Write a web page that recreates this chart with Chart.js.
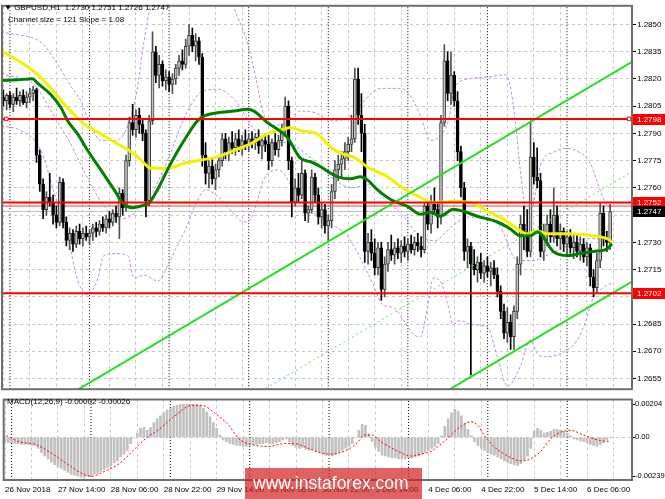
<!DOCTYPE html>
<html>
<head>
<meta charset="utf-8">
<title>GBPUSD H1</title>
<script src="https://cdn.jsdelivr.net/npm/chart.js@4.4.1/dist/chart.umd.min.js"></script>
<style>
body{margin:0;background:#fff;}
#wrap{position:relative;width:665px;height:499px;overflow:hidden;font-family:'Liberation Sans',Arial,sans-serif;}
canvas{position:absolute;left:0;}
#main{top:0;}
#macd{top:395px;}
.lbl{position:absolute;font-size:8px;line-height:10px;color:#000;white-space:pre;}
#wm{position:absolute;left:245px;top:468px;width:177px;height:31px;background:rgba(210,30,30,0.7);color:#fff;font-size:17.5px;line-height:31px;padding-left:8px;box-sizing:border-box;}
</style>
</head>
<body>
<div id="wrap">
<canvas id="main" width="665" height="395"></canvas>
<canvas id="macd" width="665" height="104"></canvas>
<div class="lbl" style="left:4px;top:3px">▼ GBPUSD,H1  1.2730 1.2751 1.2726 1.2747</div>
<div class="lbl" style="left:8px;top:15px">Channel size = 121 Slope = 1.08</div>
<div class="lbl" style="left:7px;top:397px">MACD(12,26,9) -0.00002 -0.00026</div>
<div id="wm">www.instaforex.com</div>
</div>
<script>
// bar index 0 = 26 Nov 22:00, one bar per hour
const gridBars = [0,8,16,24,32,40,48,56,64,72,80,88,96,104,112,120,128,136,144,152,160,168,176,184];
const daySeps = [2,26,50,74,98,122,146,170];
const labelBars = [0,16,32,48,64,80,96,112,128,144,160,176];
const labelTexts = ['26 Nov 2018','27 Nov 14:00','28 Nov 06:00','28 Nov 22:00','29 Nov 14:00','30 Nov 06:00',
  '30 Nov 22:00','3 Dec 14:00','4 Dec 06:00','4 Dec 22:00','5 Dec 14:00','6 Dec 06:00'];
const priceTicks = [1.2655,1.2670,1.2685,1.2700,1.2715,1.2730,1.2745,1.2760,1.2775,1.2790,1.2805,1.2820,1.2835,1.2850];
const macdTicks = [-0.00239,0,0.00204];

const opens = [
  1.2810,1.2808,1.2811,1.2806,1.2810,1.2808,1.2811,1.2807,1.2810,1.2812,
  1.2814,1.2778,1.2762,1.2748,1.2755,1.2752,1.2745,1.2741,1.2763,1.2741,
  1.2731,1.2735,1.2729,1.2736,1.2732,1.2735,1.2733,1.2735,1.2738,1.2736,
  1.2740,1.2738,1.2743,1.2741,1.2746,1.2744,1.2757,1.2749,1.2775,1.2796,
  1.2792,1.2800,1.2795,1.2790,1.2753,1.2797,1.2835,1.2822,1.2828,1.2819,
  1.2821,1.2817,1.2820,1.2826,1.2830,1.2828,1.2838,1.2844,1.2838,1.2841,
  1.2832,1.2778,1.2768,1.2772,1.2765,1.2770,1.2775,1.2787,1.2780,1.2785,
  1.2782,1.2787,1.2783,1.2786,1.2784,1.2787,1.2785,1.2788,1.2783,1.2786,
  1.2784,1.2775,1.2785,1.2781,1.2786,1.2793,1.2805,1.2775,1.2752,1.2760,
  1.2756,1.2768,1.2746,1.2748,1.2766,1.2756,1.2744,1.2748,1.2739,1.2742,
  1.2758,1.2770,1.2773,1.2776,1.2780,1.2784,1.2787,1.2820,1.2800,1.2790,
  1.2725,1.2730,1.2724,1.2716,1.2727,1.2704,1.2718,1.2726,1.2723,1.2727,
  1.2724,1.2728,1.2725,1.2729,1.2726,1.2730,1.2728,1.2726,1.2750,1.2740,
  1.2752,1.2748,1.2744,1.2796,1.2830,1.2812,1.2822,1.2808,1.2780,1.2760,
  1.2725,1.2728,1.2718,1.2715,1.2719,1.2713,1.2717,1.2714,1.2716,1.2712,
  1.2703,1.2692,1.2680,1.2686,1.2678,1.2692,1.2718,1.2740,1.2735,1.2725,
  1.2777,1.2766,1.2764,1.2725,1.2735,1.2740,1.2733,1.2745,1.2732,1.2736,
  1.2729,1.2733,1.2727,1.2730,1.2725,1.2729,1.2722,1.2727,1.2711,1.2705,
  1.2720,1.2746,1.2732,1.2730];
const highs = [
  1.2814,1.2812,1.2813,1.2812,1.2815,1.2813,1.2814,1.2813,1.2815,1.2816,
  1.2815,1.2781,1.2765,1.2758,1.2768,1.2756,1.2750,1.2766,1.2765,1.2744,
  1.2738,1.2737,1.2739,1.2740,1.2738,1.2739,1.2737,1.2740,1.2741,1.2742,
  1.2744,1.2745,1.2747,1.2748,1.2750,1.2760,1.2759,1.2778,1.2799,1.2806,
  1.2803,1.2804,1.2798,1.2792,1.2800,1.2846,1.2838,1.2833,1.2830,1.2825,
  1.2824,1.2823,1.2828,1.2833,1.2836,1.2842,1.2850,1.2848,1.2845,1.2843,
  1.2834,1.2785,1.2775,1.2776,1.2773,1.2778,1.2790,1.2790,1.2788,1.2791,
  1.2790,1.2792,1.2789,1.2792,1.2790,1.2791,1.2790,1.2792,1.2788,1.2790,
  1.2789,1.2787,1.2790,1.2789,1.2795,1.2810,1.2808,1.2777,1.2765,1.2768,
  1.2775,1.2770,1.2750,1.2770,1.2768,1.2760,1.2752,1.2751,1.2745,1.2762,
  1.2775,1.2778,1.2780,1.2785,1.2788,1.2800,1.2826,1.2826,1.2812,1.2795,
  1.2735,1.2737,1.2732,1.2730,1.2730,1.2722,1.2730,1.2734,1.2730,1.2732,
  1.2731,1.2733,1.2732,1.2734,1.2733,1.2735,1.2733,1.2752,1.2752,1.2756,
  1.2760,1.2752,1.2800,1.2839,1.2835,1.2835,1.2824,1.2813,1.2783,1.2763,
  1.2732,1.2730,1.2726,1.2722,1.2724,1.2720,1.2722,1.2719,1.2720,1.2716,
  1.2706,1.2696,1.2694,1.2690,1.2695,1.2722,1.2745,1.2750,1.2748,1.2797,
  1.2785,1.2782,1.2768,1.2740,1.2745,1.2748,1.2760,1.2750,1.2740,1.2738,
  1.2736,1.2737,1.2734,1.2735,1.2733,1.2732,1.2730,1.2729,1.2715,1.2724,
  1.2752,1.2750,1.2736,1.2751];
const lows = [
  1.2805,1.2803,1.2804,1.2802,1.2806,1.2805,1.2806,1.2804,1.2807,1.2808,
  1.2774,1.2758,1.2743,1.2745,1.2750,1.2740,1.2738,1.2739,1.2738,1.2728,
  1.2726,1.2725,1.2727,1.2729,1.2728,1.2731,1.2729,1.2731,1.2733,1.2734,
  1.2736,1.2735,1.2738,1.2739,1.2741,1.2732,1.2745,1.2747,1.2772,1.2789,
  1.2788,1.2790,1.2786,1.2744,1.2750,1.2795,1.2818,1.2815,1.2816,1.2814,
  1.2813,1.2812,1.2817,1.2822,1.2825,1.2826,1.2833,1.2835,1.2830,1.2828,
  1.2772,1.2762,1.2760,1.2762,1.2759,1.2766,1.2772,1.2776,1.2775,1.2779,
  1.2778,1.2780,1.2778,1.2781,1.2780,1.2782,1.2781,1.2779,1.2776,1.2780,
  1.2770,1.2772,1.2778,1.2777,1.2783,1.2790,1.2770,1.2744,1.2750,1.2752,
  1.2754,1.2742,1.2741,1.2746,1.2752,1.2740,1.2738,1.2735,1.2731,1.2738,
  1.2754,1.2764,1.2766,1.2770,1.2775,1.2780,1.2785,1.2795,1.2780,1.2719,
  1.2718,1.2720,1.2712,1.2712,1.2698,1.2700,1.2714,1.2720,1.2718,1.2721,
  1.2719,1.2722,1.2720,1.2724,1.2723,1.2725,1.2722,1.2724,1.2737,1.2735,
  1.2746,1.2738,1.2740,1.2794,1.2808,1.2806,1.2805,1.2775,1.2755,1.2720,
  1.2716,1.2657,1.2712,1.2708,1.2710,1.2708,1.2711,1.2706,1.2710,1.2700,
  1.2688,1.2677,1.2675,1.2671,1.2671,1.2688,1.2712,1.2726,1.2722,1.2722,
  1.2762,1.2760,1.2722,1.2720,1.2728,1.2730,1.2730,1.2728,1.2726,1.2725,
  1.2722,1.2724,1.2721,1.2722,1.2720,1.2719,1.2717,1.2706,1.2700,1.2702,
  1.2716,1.2728,1.2725,1.2726];
const closes = [
  1.2808,1.2811,1.2806,1.2810,1.2808,1.2811,1.2807,1.2810,1.2812,1.2814,
  1.2778,1.2762,1.2748,1.2755,1.2752,1.2745,1.2741,1.2763,1.2741,1.2731,
  1.2735,1.2729,1.2736,1.2732,1.2735,1.2733,1.2735,1.2738,1.2736,1.2740,
  1.2738,1.2743,1.2741,1.2746,1.2744,1.2757,1.2749,1.2775,1.2796,1.2792,
  1.2800,1.2795,1.2790,1.2753,1.2797,1.2835,1.2822,1.2828,1.2819,1.2821,
  1.2817,1.2820,1.2826,1.2830,1.2828,1.2838,1.2844,1.2838,1.2841,1.2832,
  1.2778,1.2768,1.2772,1.2765,1.2770,1.2775,1.2787,1.2780,1.2785,1.2782,
  1.2787,1.2783,1.2786,1.2784,1.2787,1.2785,1.2788,1.2783,1.2786,1.2784,
  1.2775,1.2785,1.2781,1.2786,1.2793,1.2805,1.2775,1.2752,1.2760,1.2756,
  1.2768,1.2746,1.2748,1.2766,1.2756,1.2744,1.2748,1.2739,1.2742,1.2758,
  1.2770,1.2773,1.2776,1.2780,1.2784,1.2787,1.2820,1.2800,1.2790,1.2725,
  1.2730,1.2724,1.2716,1.2727,1.2704,1.2718,1.2726,1.2723,1.2727,1.2724,
  1.2728,1.2725,1.2729,1.2726,1.2730,1.2728,1.2726,1.2750,1.2740,1.2752,
  1.2748,1.2744,1.2796,1.2830,1.2812,1.2822,1.2808,1.2780,1.2760,1.2725,
  1.2728,1.2718,1.2715,1.2719,1.2713,1.2717,1.2714,1.2716,1.2712,1.2703,
  1.2692,1.2680,1.2686,1.2678,1.2692,1.2718,1.2740,1.2735,1.2725,1.2777,
  1.2766,1.2764,1.2725,1.2735,1.2740,1.2733,1.2745,1.2732,1.2736,1.2729,
  1.2733,1.2727,1.2730,1.2725,1.2729,1.2722,1.2727,1.2711,1.2705,1.2720,
  1.2746,1.2732,1.2730,1.2747];

// indicator lines, [bar, price]
const yellowMA = [[-0.7,1.28358],[9.3,1.28240],[14.3,1.28150],[19.4,1.28041],[24.4,1.27951],[29.4,1.27897],
  [34.4,1.27843],[39.4,1.27789],[42.5,1.27735],[44.5,1.27708],[49.5,1.27708],[54.5,1.27735],[59.5,1.27753],
  [64.6,1.27771],[69.6,1.27807],[74.6,1.27843],[79.6,1.27897],[84.6,1.27924],[86.6,1.27933],[89.7,1.27915],
  [94.7,1.27897],[98.7,1.27825],[101.7,1.27791],[105.7,1.27769],[109.8,1.27715],[115.9,1.27661],[119.8,1.27607],
  [125.8,1.27547],[129.7,1.27520],[135.7,1.27525],[140.9,1.27520],[146,1.27471],[150.8,1.27428],[155,1.27374],
  [158,1.27347],[161.1,1.27363],[164.1,1.27347],[171,1.27347],[177.9,1.27336],[182.1,1.27320],[183.6,1.27303]];
const greenMA = [[-0.7,1.28191],[4.3,1.28195],[8.8,1.28201],[10.3,1.28177],[14.3,1.28114],[17.4,1.28041],
  [19.4,1.27969],[22.4,1.27897],[25.4,1.27807],[29.4,1.27699],[33.4,1.27590],[36.4,1.27509],[39,1.27491],
  [41.5,1.27500],[44,1.27518],[46.5,1.27590],[50.5,1.27735],[54.5,1.27861],[58.5,1.27969],[60.5,1.27996],
  [64.6,1.28014],[69.6,1.28023],[73.6,1.28033],[75.6,1.28023],[79.6,1.27960],[82.6,1.27924],[85.6,1.27879],
  [89.7,1.27762],[92.7,1.27744],[95.7,1.27716],[98.7,1.27681],[100.8,1.27661],[104.7,1.27650],[107.7,1.27661],
  [109.8,1.27644],[112.8,1.27590],[116.8,1.27536],[121.9,1.27498],[125.8,1.27455],[128.8,1.27466],[131.8,1.27444],
  [135.7,1.27482],[138.7,1.27471],[142.9,1.27444],[149,1.27412],[152.9,1.27374],[155.9,1.27336],[158.9,1.27336],
  [161.1,1.27357],[165.9,1.27249],[170.1,1.27227],[174,1.27238],[177.9,1.27249],[182.1,1.27265],[183.6,1.27292]];
const bandUpper = [[-0.7,1.28457],[5.3,1.28440],[11.3,1.28403],[15.9,1.28294],[20.4,1.28159],[23.4,1.28078],
  [26.4,1.27942],[29.4,1.27861],[33.9,1.27861],[36.9,1.27915],[40,1.28105],[42.4,1.28403],[44.5,1.28619],
  [46.9,1.28830],[67.1,1.28720],[70.1,1.28565],[73.1,1.28430],[76.1,1.28213],[78.2,1.28023],[80.6,1.27942],
  [85.1,1.27958],[89.7,1.28023],[94.2,1.28013],[98.7,1.27969],[103.2,1.27980],[106.2,1.28023],[109.2,1.28088],
  [113.7,1.28148],[119.8,1.28148],[122.8,1.28105],[125.8,1.27996],[128.8,1.27861],[131.8,1.27888],[134.2,1.27969],
  [136.3,1.28159],[140.9,1.28202],[146.9,1.28213],[151.4,1.28224],[152.9,1.28159],[154.4,1.27969],[155.9,1.27699],
  [158,1.27455],[159.8,1.27509],[162,1.27726],[165.9,1.27796],[170.1,1.27818],[172.5,1.27807],[177,1.27737],
  [179.4,1.27617],[181.5,1.27520],[183.6,1.27482]];
const bandMiddle = [[-0.7,1.28229],[9.8,1.28159],[15,1.28002],[20.1,1.27850],[24.9,1.27671],[30,1.27509],
  [35.1,1.27428],[40,1.27466],[45.1,1.27580],[49.9,1.27769],[55,1.28002],[60.1,1.28132],[64.9,1.28143],
  [70.1,1.28078],[74.9,1.27942],[80,1.27850],[85.1,1.27850],[89.9,1.27807],[95.1,1.27726],[99.9,1.27644],
  [105,1.27601],[110.1,1.27617],[115,1.27536],[120.1,1.27455],[124.9,1.27347],[130,1.27309],[135.1,1.27384],
  [140,1.27439],[145.1,1.27439],[149.9,1.27384],[155,1.27200],[160.1,1.27200],[164.9,1.27238],[170.1,1.27282],
  [174.9,1.27320],[180,1.27320],[183.6,1.27320]];
const bandLower = [[-0.7,1.27942],[5.3,1.27915],[11.3,1.27807],[15.9,1.27536],[19.5,1.27320],[22.5,1.27087],
  [25.5,1.27011],[28.5,1.27103],[30.3,1.27227],[33.9,1.27238],[37.5,1.27227],[39.4,1.27103],[42.4,1.27119],
  [46.6,1.27087],[49.6,1.27173],[52,1.27265],[55,1.27374],[58,1.27509],[61,1.27590],[64,1.27563],[67.1,1.27509],
  [69.5,1.27455],[72.5,1.27412],[74.6,1.27428],[76.7,1.27536],[78.5,1.27644],[82.7,1.27699],[84.5,1.27682],
  [86.6,1.27617],[89.7,1.27536],[94.2,1.27455],[98.7,1.27401],[103.2,1.27347],[106.2,1.27265],[107.7,1.27211],
  [111.6,1.27065],[114.3,1.26957],[117.7,1.26940],[120.7,1.26870],[123.7,1.26794],[125.8,1.26778],[127.9,1.26940],
  [129.7,1.27103],[131.8,1.27087],[133.9,1.26968],[135.7,1.26848],[137.8,1.26870],[140.9,1.26848],[146,1.26832],
  [149,1.26670],[152,1.26507],[155.9,1.26616],[158.9,1.26762],[161.1,1.26686],[163.4,1.26670],[168,1.26686],
  [173.1,1.26762],[175.5,1.26859],[177.9,1.26995],[180,1.27038],[182.1,1.27065],[183.6,1.27076]];

// regression channel (121 pips wide)
const channelUpper = [[0,1.26246],[189.6,1.28294]];
const channelMid = [[0,1.25641],[189.6,1.27689]];
const channelLower = [[0,1.25036],[189.6,1.27084]];
const levels = [1.2798,1.2752,1.2702];
const askPrice = 1.2750, bidPrice = 1.2747;
const priceTags = [1.2798,1.2752,1.2747,1.2702];

const macdHist = [
  -0.00027,-0.00032,-0.00032,-0.00038,-0.00038,-0.00044,-0.00044,-0.00044,-0.00050,-0.00050,
  -0.00068,-0.00092,-0.00115,-0.00133,-0.00151,-0.00168,-0.00180,-0.00192,-0.00204,-0.00216,
  -0.00227,-0.00233,-0.00239,-0.00245,-0.00245,-0.00239,-0.00233,-0.00227,-0.00221,-0.00210,
  -0.00198,-0.00186,-0.00174,-0.00157,-0.00145,-0.00121,-0.00103,-0.00080,-0.00038,-0.00003,
  0.00027,0.00056,0.00062,0.00044,0.00062,0.00092,0.00115,0.00133,0.00151,0.00168,
  0.00180,0.00192,0.00198,0.00204,0.00204,0.00204,0.00204,0.00204,0.00204,0.00198,
  0.00180,0.00157,0.00127,0.00092,0.00056,0.00015,-0.00015,-0.00027,-0.00038,-0.00044,
  -0.00050,-0.00050,-0.00056,-0.00056,-0.00050,-0.00044,-0.00044,-0.00038,-0.00038,-0.00032,
  -0.00038,-0.00038,-0.00032,-0.00027,-0.00015,-0.00009,-0.00027,-0.00050,-0.00062,-0.00068,
  -0.00062,-0.00074,-0.00080,-0.00074,-0.00086,-0.00092,-0.00097,-0.00109,-0.00115,-0.00115,
  -0.00103,-0.00092,-0.00080,-0.00068,-0.00056,-0.00038,-0.00003,0.00044,0.00080,0.00074,
  0.00021,-0.00027,-0.00062,-0.00086,-0.00109,-0.00115,-0.00121,-0.00127,-0.00127,-0.00133,
  -0.00133,-0.00133,-0.00127,-0.00127,-0.00121,-0.00115,-0.00103,-0.00092,-0.00080,-0.00068,
  -0.00056,-0.00038,0.00009,0.00068,0.00115,0.00151,0.00174,0.00162,0.00133,0.00086,
  0.00050,0.00009,-0.00027,-0.00050,-0.00068,-0.00080,-0.00092,-0.00103,-0.00109,-0.00121,
  -0.00133,-0.00145,-0.00157,-0.00162,-0.00168,-0.00174,-0.00162,-0.00139,-0.00115,-0.00068,
  0.00038,0.00056,0.00044,0.00027,0.00032,0.00038,0.00050,0.00050,0.00044,0.00038,
  0.00027,0.00009,-0.00009,-0.00015,-0.00021,-0.00027,-0.00032,-0.00044,-0.00050,-0.00056,
  -0.00044,-0.00032,-0.00015,-0.00002];
const macdSignal = [[-0.7,0.00022],[4.4,-0.00027],[9.2,-0.00044],[14.4,-0.00103],[19.5,-0.00174],[24.3,-0.00233],
  [26.4,-0.00239],[29.4,-0.00216],[34.5,-0.00162],[39.4,-0.00068],[42.4,-0.00009],[46.6,0.00050],[51.4,0.00133],
  [56.5,0.00198],[59.5,0.00198],[63.4,0.00151],[67.7,0.00074],[70.7,-0.00009],[74.6,-0.00044],[79.7,-0.00056],
  [84.5,-0.00038],[87.5,-0.00038],[91.8,-0.00068],[95.7,-0.00097],[98.7,-0.00103],[103.8,-0.00074],[106.8,-0.00027],
  [108.6,0.00015],[110.7,0.00015],[113.7,-0.00027],[118.9,-0.00086],[122.8,-0.00115],[125.8,-0.00103],[128.8,-0.00086],
  [132.7,-0.00027],[135.7,0.00032],[138.7,0.00080],[140.9,0.00097],[143,0.00074],[144.8,0.00015],[147.8,-0.00056],
  [152,-0.00115],[155.9,-0.00145],[158.9,-0.00133],[162,-0.00086],[165,-0.00009],[168,0.00032],[171,0.00044],
  [174.9,0.00015],[179.1,-0.00015],[183,-0.00026]];

const X_MIN = -0.4, X_MAX = 189.6;
const Y_MIN = 1.26491, Y_MAX = 1.28603;
const M_MIN = -0.00263, M_MAX = 0.00234;
const FONT = {family: "'Liberation Sans', Arial, sans-serif", size: 8};
const FONT_SMALL = {family: "'Liberation Sans', Arial, sans-serif", size: 7.5};

const pts = arr => arr.map(p => ({x: p[0], y: p[1]}));
const sepData = (lo, hi) => daySeps.flatMap(s => [{x: s, y: lo}, {x: s, y: hi}, {x: s, y: null}]);
const flat = (v, a, b) => [{x: a, y: v}, {x: b, y: v}];

const framePlugin = {
  id: 'frame',
  afterDraw(c) {
    const a = c.chartArea, g = c.ctx;
    g.save();
    g.strokeStyle = '#6e6e6e';
    g.lineWidth = 2;
    g.strokeRect(a.left, a.top, a.right - a.left, a.bottom - a.top);
    g.restore();
  }
};

const tagPlugin = {
  id: 'tags',
  afterDraw(c) {
    const g = c.ctx, y = c.scales.y;
    g.save();
    g.font = "8px 'Liberation Sans', Arial, sans-serif";
    g.textBaseline = 'middle';
    priceTags.forEach(v => {
      const py = Math.round(y.getPixelForValue(v));
      g.fillStyle = v === bidPrice ? '#000000' : '#ff0000';
      g.fillRect(633, py - 5, 32, 11);
      g.fillStyle = '#ffffff';
      g.fillText(v.toFixed(4), 637, py + 0.5);
    });
    g.restore();
  }
};

const xGrid = (showLabels) => ({
  type: 'linear', min: X_MIN, max: X_MAX, offset: false,
  afterBuildTicks: s => { s.ticks = gridBars.map(v => ({value: v})); },
  grid: {color: '#c8c8c8', drawTicks: false, offset: false},
  border: {display: false, dash: [3, 3]},
  ticks: showLabels ? {
    display: true, autoSkip: false, maxRotation: 0, align: 'start', padding: 5,
    color: '#000', font: FONT,
    callback: v => { const k = labelBars.indexOf(v); return k >= 0 ? labelTexts[k] : ''; }
  } : {display: false},
  afterFit: s => { s.height = showLabels ? 19 : 0; }
});

const wickColor = closes.map((c, i) => c >= opens[i] ? '#505050' : '#000000');
const bodyFill = closes.map((c, i) => c >= opens[i] ? '#c4c4c4' : '#000000');
const bodyEdge = closes.map((c, i) => c >= opens[i] ? '#3a3a3a' : '#000000');

new Chart(document.getElementById('main'), {
  type: 'line',
  data: {
    datasets: [
      {type: 'line', data: sepData(Y_MIN, Y_MAX), borderColor: '#000', borderWidth: 1, borderDash: [1, 2], pointRadius: 0, spanGaps: false, order: 100},
      {type: 'line', data: pts(bandUpper), borderColor: '#c888ea', borderWidth: 1, borderDash: [3, 2], pointRadius: 0, cubicInterpolationMode: 'monotone', order: 90},
      {type: 'line', data: pts(bandMiddle), borderColor: '#c888ea', borderWidth: 1, borderDash: [3, 2], pointRadius: 0, cubicInterpolationMode: 'monotone', order: 90},
      {type: 'line', data: pts(bandLower), borderColor: '#c888ea', borderWidth: 1, borderDash: [3, 2], pointRadius: 0, cubicInterpolationMode: 'monotone', order: 90},
      {type: 'line', data: flat(bidPrice, X_MIN, X_MAX), borderColor: '#c0c0c0', borderWidth: 1, pointRadius: 0, order: 85},
      {type: 'line', data: flat(askPrice, X_MIN, X_MAX), borderColor: '#ff4040', borderWidth: 1, pointRadius: 0, order: 85},
      {type: 'bar', data: closes.map((c, i) => ({x: i, y: [lows[i], highs[i]]})), backgroundColor: wickColor, barThickness: 1, grouped: false, order: 80},
      {type: 'bar', data: closes.map((c, i) => ({x: i, y: [opens[i], c]})), backgroundColor: bodyFill, borderColor: bodyEdge, borderWidth: 1, borderSkipped: false, barThickness: 3, minBarLength: 1, grouped: false, order: 79},
      {type: 'line', data: pts(yellowMA), borderColor: '#f2f200', borderWidth: 3, pointRadius: 0, cubicInterpolationMode: 'monotone', order: 50},
      {type: 'line', data: pts(greenMA), borderColor: '#008000', borderWidth: 3, pointRadius: 0, cubicInterpolationMode: 'monotone', order: 49},
      {type: 'line', data: pts(channelMid), borderColor: '#5ee85e', borderWidth: 1, borderDash: [2, 3], pointRadius: 0, order: 41},
      {type: 'line', data: pts(channelUpper), borderColor: '#22e022', borderWidth: 2, pointRadius: 0, order: 40},
      {type: 'line', data: pts(channelLower), borderColor: '#22e022', borderWidth: 2, pointRadius: 0, order: 40},
      ...levels.map(v => ({type: 'line', data: [{x: X_MIN, y: v}, {x: 0.9, y: v}, {x: 188.7, y: v}, {x: X_MAX, y: v}],
        borderColor: '#ff0000', borderWidth: 2, pointStyle: 'rect', pointBackgroundColor: '#fff', pointBorderColor: '#ff0000', pointBorderWidth: 1,
        pointRadius: v === levels[0] ? [0, 2.5, 2.5, 0] : 0, order: 30}))
    ]
  },
  options: {
    responsive: false, animation: false, devicePixelRatio: 1,
    layout: {padding: {left: 2, top: 3, right: 0, bottom: 2}},
    plugins: {legend: {display: false}, tooltip: {enabled: false}},
    scales: {
      x: xGrid(false),
      y: {
        position: 'right', min: Y_MIN, max: Y_MAX,
        afterBuildTicks: s => { s.ticks = priceTicks.map(v => ({value: v})); },
        grid: {color: '#c8c8c8', tickLength: 4, tickColor: '#000'},
        border: {display: false, dash: [3, 3]},
        ticks: {color: '#000', font: FONT, padding: 1, callback: v => v.toFixed(4)},
        afterFit: s => { s.width = 33; }
      }
    }
  },
  plugins: [framePlugin, tagPlugin]
});

new Chart(document.getElementById('macd'), {
  type: 'line',
  data: {
    datasets: [
      {type: 'line', data: sepData(M_MIN, M_MAX), borderColor: '#000', borderWidth: 1, borderDash: [1, 2], pointRadius: 0, spanGaps: false, order: 100},
      {type: 'bar', data: macdHist.map((v, i) => ({x: i, y: v})), backgroundColor: '#c0c0c0', barThickness: 2, grouped: false, order: 50},
      {type: 'line', data: pts(macdSignal), borderColor: '#ff0000', borderWidth: 1, borderDash: [2, 2], pointRadius: 0, cubicInterpolationMode: 'monotone', order: 10}
    ]
  },
  options: {
    responsive: false, animation: false, devicePixelRatio: 1,
    layout: {padding: {left: 2, top: 1, right: 0, bottom: 0}},
    plugins: {legend: {display: false}, tooltip: {enabled: false}},
    scales: {
      x: xGrid(true),
      y: {
        position: 'right', min: M_MIN, max: M_MAX,
        afterBuildTicks: s => { s.ticks = macdTicks.map(v => ({value: v})); },
        grid: {color: c => c.tick && c.tick.value === 0 ? '#c8c8c8' : 'rgba(0,0,0,0)', tickLength: 3, tickColor: '#000'},
        border: {display: false, dash: [3, 3]},
        ticks: {color: '#000', font: FONT_SMALL, padding: 0, callback: v => v === 0 ? '0.00' : v.toFixed(5)},
        afterFit: s => { s.width = 33; }
      }
    }
  },
  plugins: [framePlugin]
});
</script>
</body>
</html>
